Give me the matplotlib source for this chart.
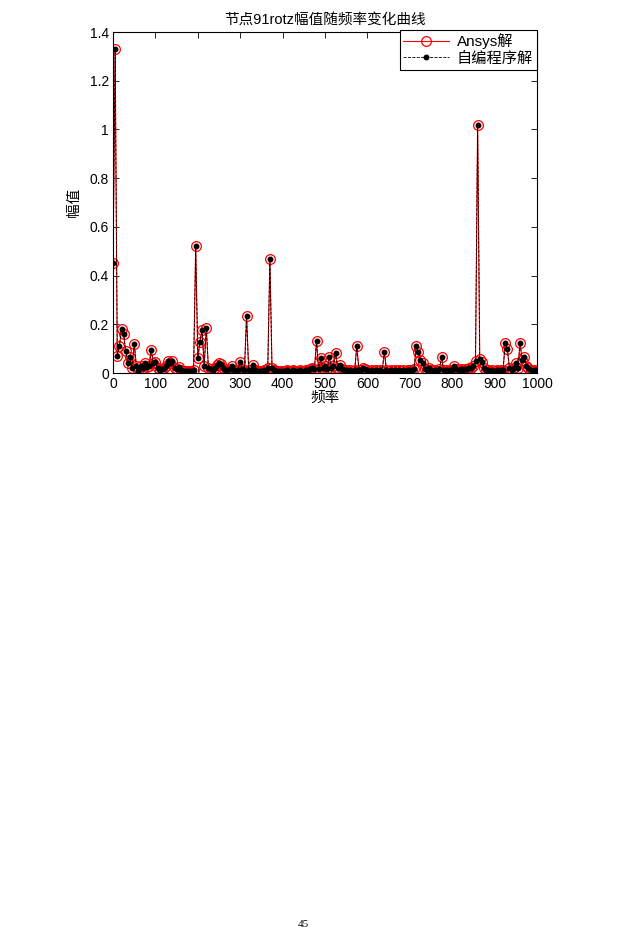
import numpy as np
import matplotlib
matplotlib.use('Agg')
import matplotlib.pyplot as plt
from matplotlib.ticker import FuncFormatter

plt.rcParams['font.family'] = ['Liberation Sans', 'Noto Sans CJK SC', 'DejaVu Sans']

#frequency grid, 5 Hz step
freq = np.arange(0, 1005, 5)

#amplitudes (one row = 50 Hz)
amp = [
    0.45, 1.33, 0.07, 0.11, 0.18, 0.16, 0.09, 0.04, 0.065, 0.02,     #0-45
    0.12, 0.03, 0.01, 0.03, 0.02, 0.04, 0.025, 0.03, 0.095, 0.04,    #50-95
    0.045, 0.02, 0.01, 0.015, 0.02, 0.03, 0.05, 0.04, 0.05, 0.02,    #100-145
    0.015, 0.025, 0.012, 0.01, 0.008, 0.008, 0.008, 0.01, 0.012, 0.52,  #150-195
    0.06, 0.128, 0.177, 0.03, 0.185, 0.02, 0.015, 0.012, 0.02, 0.035,  #200-245
    0.04, 0.038, 0.02, 0.012, 0.012, 0.015, 0.03, 0.012, 0.012, 0.012,  #250-295
    0.045, 0.015, 0.012, 0.235, 0.012, 0.012, 0.033, 0.012, 0.01, 0.01,  #300-345
    0.01, 0.012, 0.012, 0.02, 0.47, 0.02, 0.012, 0.01, 0.01, 0.01,  #350-395
    0.01, 0.01, 0.012, 0.01, 0.01, 0.012, 0.01, 0.01, 0.012, 0.01,  #400-445
    0.01, 0.012, 0.012, 0.015, 0.02, 0.015, 0.13, 0.015, 0.06, 0.02,  #450-495
    0.03, 0.015, 0.067, 0.02, 0.03, 0.083, 0.02, 0.035, 0.015, 0.012,  #500-545
    0.012, 0.01, 0.012, 0.01, 0.012, 0.11, 0.012, 0.012, 0.02, 0.015,   #550-595
    0.012, 0.01, 0.012, 0.01, 0.012, 0.01, 0.012, 0.01, 0.087, 0.012,    #600-645
    0.01, 0.012, 0.01, 0.012, 0.01, 0.012, 0.01, 0.012, 0.01, 0.012,     #650-695
    0.012, 0.012, 0.015, 0.11, 0.087, 0.053, 0.04, 0.015, 0.012, 0.02,  #700-745
    0.012, 0.01, 0.012, 0.01, 0.015, 0.065, 0.012, 0.012, 0.01, 0.012,  #750-795
    0.012, 0.03, 0.015, 0.012, 0.015, 0.012, 0.015, 0.018, 0.02, 0.02,  #800-845
    0.03, 0.05, 1.02, 0.057, 0.045, 0.02, 0.012, 0.012, 0.01, 0.012,  #850-895
    0.01, 0.012, 0.01, 0.012, 0.012, 0.122, 0.1, 0.02, 0.012, 0.02,    #900-945
    0.04, 0.02, 0.123, 0.055, 0.065, 0.03, 0.02, 0.012, 0.01, 0.012,  #950-995
    0.01,                                                            #1000
]
ansys = amp
selfcode = amp

fig = plt.figure(figsize=(6.29, 9.42), dpi=100)
ax = fig.add_axes([0.1797, 0.604, 0.674, 0.362])

ax.plot(freq, ansys, '-o', color='red', mfc='none', mec='red', ms=7, mew=0.9, lw=0.8, label='Ansys解')
ax.plot(freq, selfcode, '--.', color='black', ms=6.5, lw=0.6, label='自编程序解')

ax.set_xlim(0, 1000)
ax.set_ylim(0, 1.4)
ax.set_xticks(np.arange(0, 1001, 100))
ax.set_yticks(np.arange(0, 1.41, 0.2))
ax.yaxis.set_major_formatter(FuncFormatter(lambda v, p: '%g' % round(v, 1)))
ax.tick_params(direction='in', top=True, right=True, length=4, width=0.6, labelsize=10, pad=3)
for s in ax.spines.values():
    s.set_linewidth(0.8)

ax.set_title('节点91rotz幅值随频率变化曲线', fontsize=10.5, pad=6)
ax.set_xlabel('频率', fontsize=10.5, labelpad=0)
ax.set_ylabel('幅值', fontsize=10.5, labelpad=6)

leg = ax.legend(loc='upper right', bbox_to_anchor=(1.0, 1.007), fontsize=11, frameon=True,
                fancybox=False, edgecolor='black', framealpha=1, borderpad=0.25,
                labelspacing=0.15, handlelength=3.0, handletextpad=0.5, borderaxespad=0)
leg.get_frame().set_linewidth(0.8)

#page number
fig.text(0.4825, 0.019, '45', fontsize=8, family='Liberation Serif', ha='center', va='center')

fig.savefig('out.png', dpi=100)
